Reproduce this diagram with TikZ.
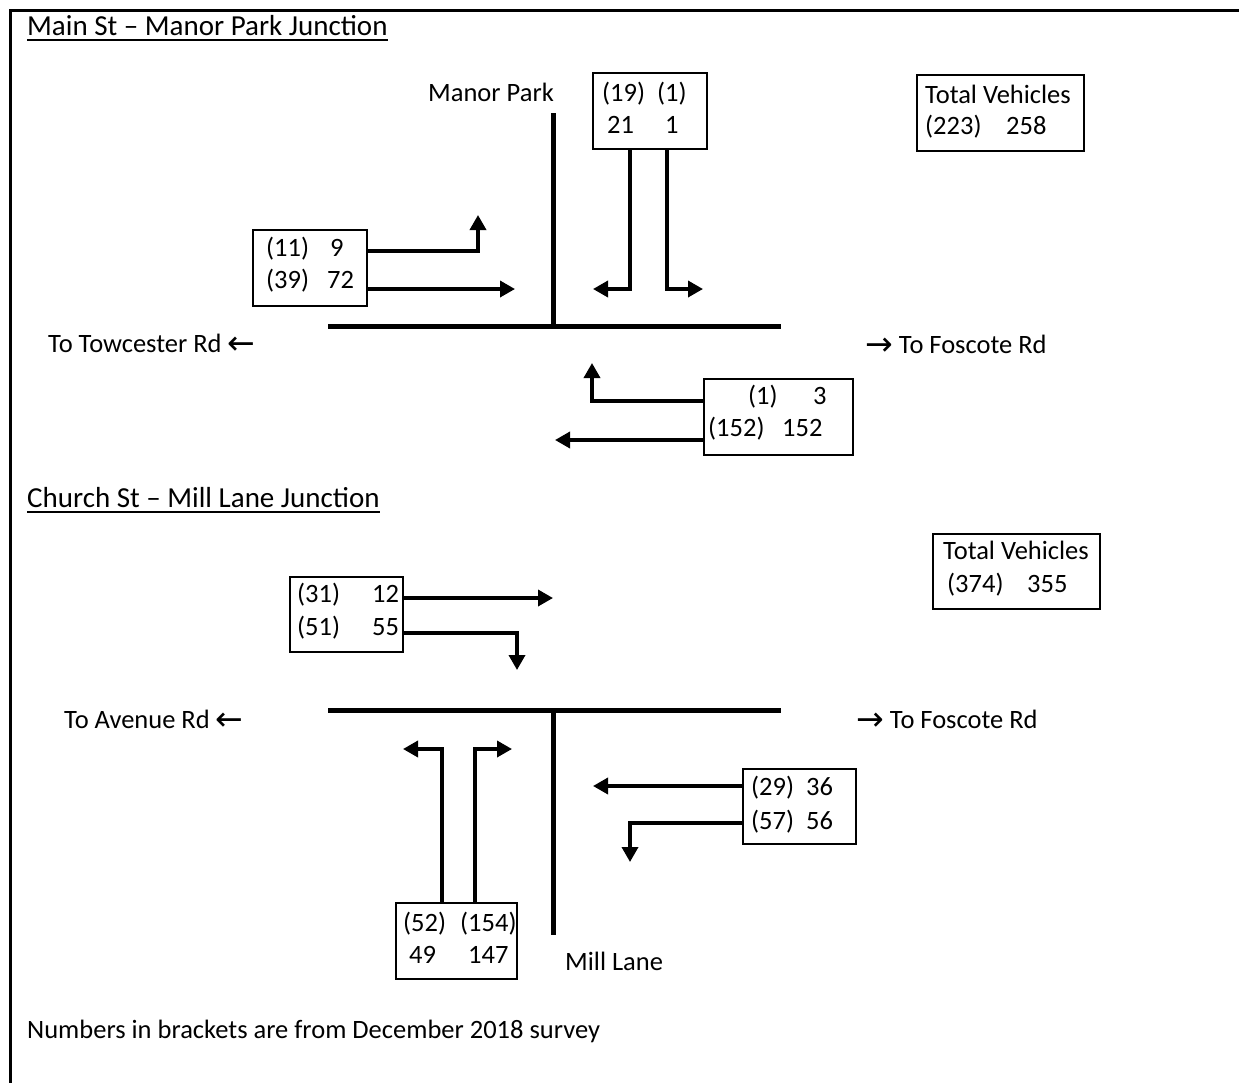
\documentclass[tikz,border=0pt]{standalone}
\usepackage{fontspec}
\setmainfont{Carlito}
\newfontfamily\arrowfont[Scale=1.25]{DejaVu Sans}
\newcommand\arrglyph[1]{\raisebox{-2.5pt}{\arrowfont #1}}
\usetikzlibrary{arrows.meta,calc}
\tikzset{
  frameline/.style={line width=3pt},
  road/.style={line width=5pt},
  flow/.style={line width=3.5pt,-{Triangle[length=15pt,width=16pt]}},
  vbox/.style={draw,line width=1.2pt,anchor=north west,inner sep=0pt,outer sep=0pt},
  txt/.style={anchor=base west,inner sep=0pt,font=\fontsize{26.5}{32}\selectfont},
  head/.style={anchor=base west,inner sep=0pt,font=\fontsize{29}{35}\selectfont},
  uline/.style={line width=2pt},
}
\begin{document}
\begin{tikzpicture}[x=1pt,y=-1pt]
\useasboundingbox (0,0) rectangle (1239,1082);
% outer frame (only top and left edges visible)
\draw[frameline] (10,1090) -- (10,10) -- (1250,10);

% ===== Main St - Manor Park Junction =====
\node[head] (h1) at (27,35) {Main St – Manor Park Junction};
\draw[uline] ([yshift=-5pt]h1.base west) -- ([yshift=-5pt]h1.base east);

\draw[road] (328,326) -- (781,326);
\draw[road] (553,113) -- (553,326);
\node[txt] (mp) at (428,101) {Manor Park};
\node[txt] (tw) at (48,352) {To Towcester Rd \arrglyph{←}};
\node[txt] (fr1) at (865,353) {\arrglyph{→} To Foscote Rd};

% box (11)/(39)
\node[vbox,minimum width=114pt,minimum height=76pt] (b1) at (253,230) {};
\node[txt] at (266,256) {(11)};
\node[txt] at (330,256) {9};
\node[txt] at (266,288) {(39)};
\node[txt] at (327,288) {72};
\coordinate (t1) at (478,215);
\coordinate (t2) at (515,289);
\draw[flow] ($(b1.north east)+(0,21)$) -| (t1);
\draw[flow] ($(b1.north east)+(0,59)$) -- (t2);

% box (19)/(1)
\node[vbox,minimum width=114pt,minimum height=76pt] (b2) at (593,73) {};
\node[txt] at (602,101) {(19)};
\node[txt] at (657,101) {(1)};
\node[txt] at (607,133) {21};
\node[txt] at (665,133) {1};
\coordinate (t3) at (593,289);
\coordinate (t4) at (703,289);
\draw[flow] ($(b2.south west)+(37,0)$) |- (t3);
\draw[flow] ($(b2.south west)+(74,0)$) |- (t4);

% total vehicles 1
\node[vbox,minimum width=167pt,minimum height=76pt] (b3) at (917,75) {};
\node[txt] at (925,103) {Total Vehicles};
\node[txt] at (925,134) {(223)};
\node[txt] at (1006,134) {258};

% box (1)/(152)
\node[vbox,minimum width=149pt,minimum height=76pt] (b4) at (704,379) {};
\node[txt] at (748,404) {(1)};
\node[txt] at (813,404) {3};
\node[txt] at (708,436) {(152)};
\node[txt] at (782,436) {152};
\coordinate (t5) at (592,363);
\coordinate (t6) at (555,440);
\draw[flow] ($(b4.north west)+(0,22)$) -| (t5);
\draw[flow] ($(b4.north west)+(0,61)$) -- (t6);

% ===== Church St - Mill Lane Junction =====
\node[head] (h2) at (27,507) {Church St – Mill Lane Junction};
\draw[uline] ([yshift=-5pt]h2.base west) -- ([yshift=-5pt]h2.base east);

\draw[road] (328,710) -- (781,710);
\draw[road] (553,710) -- (553,935);
\node[txt] (ml) at (565,970) {Mill Lane};
\node[txt] (av) at (64,728) {To Avenue Rd \arrglyph{←}};
\node[txt] (fr2) at (856,728) {\arrglyph{→} To Foscote Rd};

% box (31)/(51)
\node[vbox,minimum width=113pt,minimum height=75pt] (b5) at (290,577) {};
\node[txt] at (297,602) {(31)};
\node[txt] at (372,602) {12};
\node[txt] at (297,635) {(51)};
\node[txt] at (372,635) {55};
\coordinate (t7) at (553,598);
\coordinate (t8) at (517,670);
\draw[flow] ($(b5.north east)+(0,21)$) -- (t7);
\draw[flow] ($(b5.north east)+(0,56)$) -| (t8);

% total vehicles 2
\node[vbox,minimum width=167pt,minimum height=75pt] (b6) at (933,534) {};
\node[txt] at (943,559) {Total Vehicles};
\node[txt] at (947,592) {(374)};
\node[txt] at (1027,592) {355};

% box (29)/(57)
\node[vbox,minimum width=113pt,minimum height=75pt] (b7) at (743,769) {};
\node[txt] at (751,795) {(29)};
\node[txt] at (806,795) {36};
\node[txt] at (751,829) {(57)};
\node[txt] at (806,829) {56};
\coordinate (t9) at (593,786);
\coordinate (t10) at (630,862);
\draw[flow] ($(b7.north west)+(0,17)$) -- (t9);
\draw[flow] ($(b7.north west)+(0,54)$) -| (t10);

% box (52)/(154)
\node[vbox,minimum width=121pt,minimum height=76pt] (b8) at (396,903) {};
\node[txt] at (403,931) {(52)};
\node[txt] at (460,931) {(154)};
\node[txt] at (409,963) {49};
\node[txt] at (468,963) {147};
\coordinate (t11) at (403,749);
\coordinate (t12) at (512,749);
\draw[flow] ($(b8.north west)+(46,0)$) |- (t11);
\draw[flow] ($(b8.north west)+(79,0)$) |- (t12);

% footer
\node[txt] (ft) at (27,1038) {Numbers in brackets are from December 2018 survey};
\end{tikzpicture}
\end{document}
